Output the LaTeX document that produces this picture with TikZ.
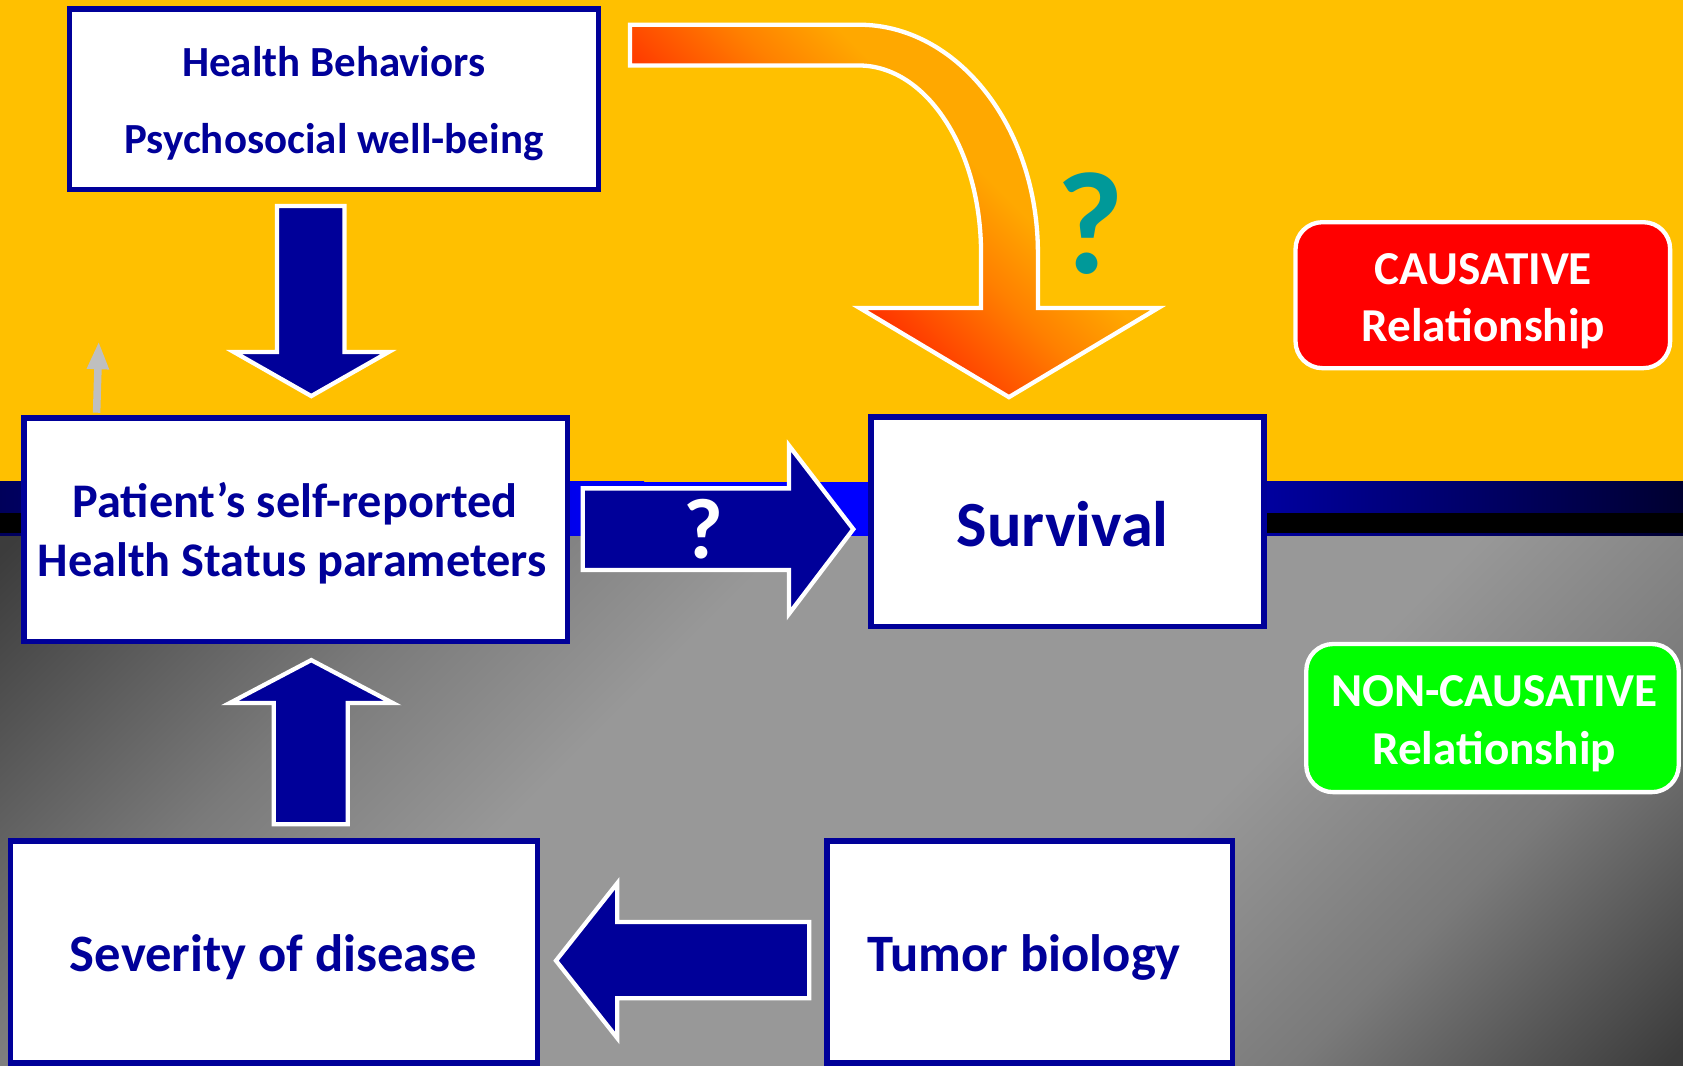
\documentclass[tikz,border=0pt]{standalone}
\usepackage{fontspec}
\setmainfont{Carlito}
\usetikzlibrary{arrows.meta,calc}
\definecolor{navy}{RGB}{0,0,153}
\definecolor{gold}{RGB}{255,192,0}
\definecolor{tealq}{RGB}{0,153,153}
\definecolor{redbox}{RGB}{255,0,0}
\definecolor{greenbox}{RGB}{0,255,0}
\definecolor{lgrey}{RGB}{191,191,191}
\definecolor{bandL}{RGB}{0,0,90}
\definecolor{bandM}{RGB}{0,0,255}
\definecolor{bandR}{RGB}{0,0,48}
\definecolor{g1}{RGB}{60,60,60}
\definecolor{g2}{RGB}{122,122,122}
\definecolor{g3}{RGB}{152,152,152}
\definecolor{o1}{RGB}{255,51,0}
\definecolor{o2}{RGB}{255,128,0}
\definecolor{o3}{RGB}{255,168,0}
\pgfdeclarehorizontalshading{greyshade}{100bp}{color(0bp)=(g1); color(15bp)=(g1); color(30bp)=(g2); color(40bp)=(g3); color(62bp)=(g3); color(73bp)=(g2); color(85bp)=(g1); color(100bp)=(g1)}
\pgfdeclarehorizontalshading{orgshade}{100bp}{color(0bp)=(o1); color(40bp)=(o1); color(52bp)=(o2); color(60bp)=(o3); color(100bp)=(o3)}
\tikzset{
  box/.style={draw=navy, line width=5pt, fill=white, inner sep=0pt},
  tagbox/.style={draw=white, line width=4pt, rounded corners=25pt, inner sep=0pt},
  txt/.style={text=navy, font=\bfseries\fontsize{#1}{#1}\selectfont, anchor=base, inner sep=0pt},
  wtxt/.style={text=white, font=\bfseries\fontsize{#1}{#1}\selectfont, anchor=base, inner sep=0pt},
  blockarrow/.style={fill=navy, draw=white, line width=4pt, line join=miter},
  greyarrow/.style={draw=lgrey, line width=7pt, -{Triangle[width=19pt,length=26pt]}}
}
\begin{document}
\begin{tikzpicture}[x=1pt,y=-1pt]
\useasboundingbox (0,0) rectangle (1568,993);
\begin{scope}
\clip (0,0) rectangle (1568,993);
% background
\fill[gold] (0,0) rectangle (1568,449);
\fill[left color=bandL, right color=bandM] (0,449) rectangle (600,500);
\fill[bandM] (599,449) rectangle (841,500);
\fill[left color=bandM, right color=bandR] (840,449) rectangle (1568,500);
\fill[black] (0,478) rectangle (531,497);
\fill[black] (1000,478) rectangle (1568,497);
\shade[shading=greyshade, shading angle=-45] (0,500) rectangle (1568,993);

% boxes
\node[box, minimum width=493pt, minimum height=168pt] (hb) at (311,92.5) {};
\node[box, minimum width=506pt, minimum height=208pt] (pat) at (275.5,493.5) {};
\node[box, minimum width=366pt, minimum height=195pt] (surv) at (994.5,486) {};
\node[box, minimum width=491pt, minimum height=207pt] (sev) at (255,887) {};
\node[box, minimum width=378pt, minimum height=207pt] (tum) at (959.5,887) {};
\node[tagbox, fill=redbox, minimum width=349pt, minimum height=136pt] (cau) at (1381.5,275) {};
\node[tagbox, fill=greenbox, minimum width=347pt, minimum height=138pt] (nc) at (1390.5,669) {};

% block arrows
\draw[blockarrow] (258,192) -- (321,192) -- (321,328) -- (362,328) -- (290,369) -- (218,328) -- (258,328) -- cycle;
\draw[blockarrow] (255,768) -- (324,768) -- (324,655) -- (366,655) -- (290,615) -- (214,655) -- (255,655) -- cycle;
\draw[blockarrow] (543,455) -- (735,455) -- (735,415) -- (795,493) -- (735,572) -- (735,531) -- (543,531) -- cycle;
\draw[blockarrow] (754,859) -- (575,859) -- (575,823) -- (518,895) -- (575,967) -- (575,930) -- (754,930) -- cycle;
\shadedraw[shading=orgshade, shading angle=45, draw=white, line width=4pt, line join=miter]
  (587,23) -- (800,23) .. controls (892,23) and (967,118) .. (967,236) -- (967,287)
  -- (1079,287) -- (940,370) -- (801,287) -- (914,287) -- (914,236)
  .. controls (914,139) and (863,61) .. (800,61) -- (587,61) -- cycle;

% grey arrow
\coordinate (gtip) at (92,318);
\draw[greyarrow] ($(pat.north west)+(70,-2.5)$) -- (gtip);

% texts
\node[txt=40] (hbT1) at (311,71) {Health Behaviors};
\node[txt=40] (hbT2) at (311,143) {Psychosocial well-being};
\node[txt=45] (patT1) at (275,482) {Patient’s self-reported};
\node[txt=45] (patT2) at (272,537) {Health Status parameters};
\node[txt=60] (survT) at (990,509) {Survival};
\node[txt=49] (sevT) at (255,905) {Severity of disease};
\node[txt=49] (tumT) at (954,905) {Tumor biology};
\node[wtxt=44] (cauT1) at (1382,265) {CAUSATIVE};
\node[wtxt=44] (cauT2) at (1382,318) {Relationship};
\node[wtxt=44] (ncT1) at (1392,658) {NON-CAUSATIVE};
\node[wtxt=44] (ncT2) at (1392,712) {Relationship};
\node[wtxt=80] (qW) at (655,520) {?};
\node[txt=136, text=tealq] (qT) at (1016,255) {?};
\end{scope}
\end{tikzpicture}
\end{document}
